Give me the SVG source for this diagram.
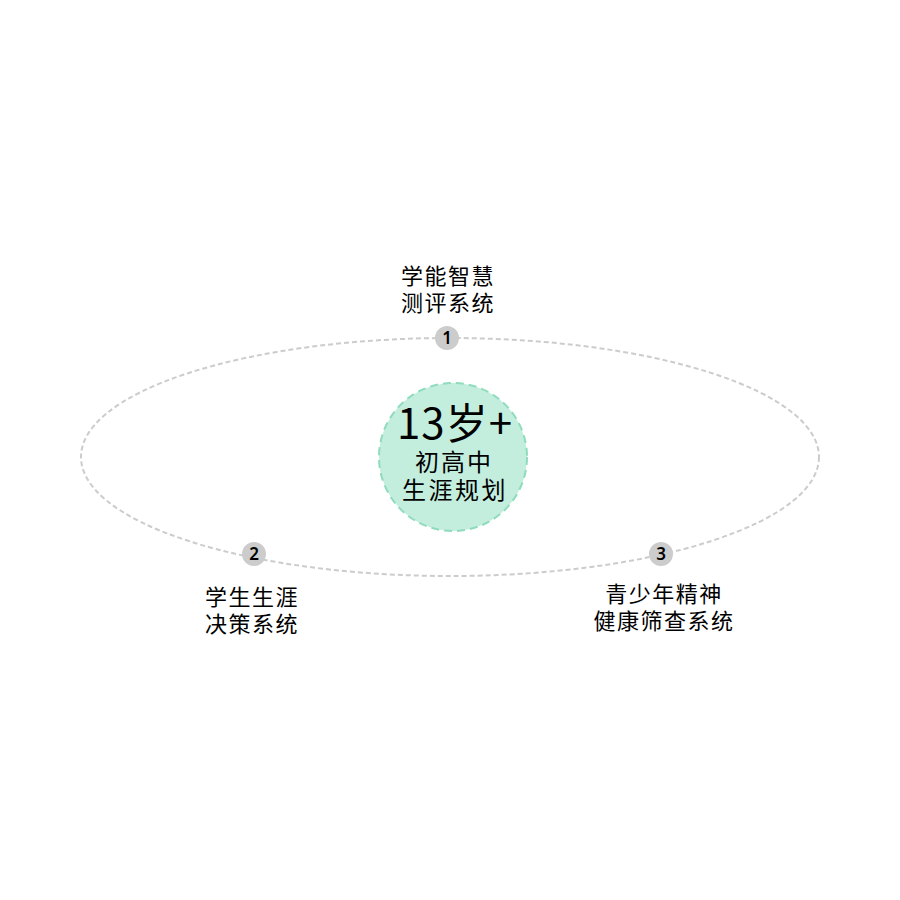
<svg xmlns="http://www.w3.org/2000/svg" width="900" height="900" viewBox="0 0 900 900">
<style>
.t{font-family:"Noto Sans CJK SC","Noto Sans",sans-serif;fill:#000;text-anchor:middle}
.lbl{font-size:22px;letter-spacing:1.5px}
.num{font-family:"Noto Sans",sans-serif;font-size:17px;font-weight:600;text-anchor:middle;fill:#000}
.dot{fill:#cccccc}
</style>
<rect width="900" height="900" fill="#fff"/>
<g id="connectors">
<ellipse cx="450" cy="457" rx="369" ry="119" fill="none" stroke="#cccccc" stroke-width="2" stroke-dasharray="5,3"/>
</g>
<g id="center">
<circle cx="453" cy="457" r="74" fill="#c3eedd" stroke="#8fdcbc" stroke-width="2" stroke-dasharray="8,5"/>
<text class="t" x="455" y="439" font-size="42" letter-spacing="1">13岁+</text>
<text class="t" x="454" y="471" font-size="24" letter-spacing="2">初高中</text>
<text class="t" x="455" y="499" font-size="24" letter-spacing="2.5">生涯规划</text>
</g>
<g id="node1">
<circle class="dot" cx="447" cy="338" r="12"/>
<text class="num" x="447" y="344">1</text>
<text class="t lbl" x="448" y="284">学能智慧</text>
<text class="t lbl" x="448" y="311">测评系统</text>
</g>
<g id="node2">
<circle class="dot" cx="254" cy="554" r="12"/>
<text class="num" x="254" y="560">2</text>
<text class="t lbl" x="252" y="605">学生生涯</text>
<text class="t lbl" x="252" y="632">决策系统</text>
</g>
<g id="node3">
<circle class="dot" cx="661" cy="554" r="12"/>
<text class="num" x="661" y="560">3</text>
<text class="t lbl" x="664" y="602">青少年精神</text>
<text class="t lbl" x="664" y="629">健康筛查系统</text>
</g>
</svg>
